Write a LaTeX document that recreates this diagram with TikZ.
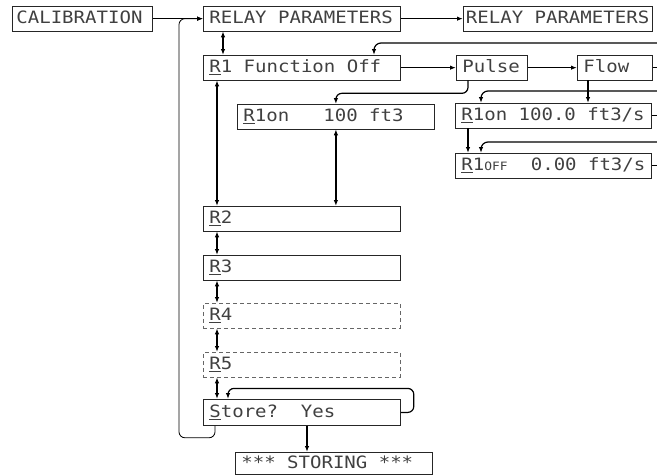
\documentclass[tikz,border=0pt]{standalone}
\usepackage{fontspec}
\usetikzlibrary{arrows.meta}
\newfontfamily\lcdfont[FakeStretch=1.12]{DejaVu Sans Mono}
\newcommand{\lcdsize}{\fontsize{17}{17}\selectfont\fontdimen2\font=11.4pt\fontdimen3\font=0pt\fontdimen4\font=0pt\relax}
\newcommand{\lcdsmall}{\fontsize{11.5}{11.5}\selectfont}
\tikzset{
  panel/.style={draw=black!85, line width=0.8pt, anchor=north west, minimum height=24.5pt,
    inner xsep=6pt, inner ysep=0pt, text height=13pt, text depth=3pt,
    text=black!75, font={\lcdfont\lcdsize},
    execute at begin node={\spaceskip=11.4pt\relax\xspaceskip=11.4pt\relax}},
  dimpanel/.style={panel, draw=black!60, dash pattern=on 4pt off 3pt},
  link/.style={-{Latex[length=6pt,width=4.5pt]}, line width=1.2pt},
  dlink/.style={{Latex[length=6pt,width=4.5pt]}-{Latex[length=6pt,width=4.5pt]}, line width=1.2pt},
  backlink/.style={link, line width=0.8pt, rounded corners=6pt},
  stub/.style={line width=1.2pt}
}
\begin{document}
\begin{tikzpicture}[x=1pt,y=-1pt]
    \useasboundingbox (0,0) rectangle (657,475);

    % Menu principale
    \node[panel, inner xsep=4pt, text width=132pt] (cal) at (12,6) {CALIBRATION};
    \node[panel, text width=185pt] (rpA) at (203,6) {RELAY PARAMETERS};
    \node[panel, inner xsep=2.5pt, text width=184pt] (rpB) at (463,6) {RELAY PARAMETERS};

    % Relè 1
    \node[panel, text width=185pt] (rOne) at (203,55) {\underline{R}1 Function Off};
    \node[panel, text width=59pt] (pulse) at (456,55) {Pulse};
    \node[panel, text width=63pt] (flow) at (577,55) {Flow};
    \node[panel, text width=185pt] (rOnVol) at (237,104) {\underline{R}1on~~~100 ft3};
    \node[panel, text width=184pt] (rOnFlow) at (455,103) {\underline{R}1on 100.0 ft3/s};
    \node[panel, text width=184pt] (rOffFlow) at (455,153) {\underline{R}1{\lcdsmall OFF}\hfill 0.00 ft3/s};

    % Relè 2..5 e memorizzazione
    \node[panel, text width=185pt] (rTwo) at (203,206) {\underline{R}2};
    \node[panel, text width=185pt] (rThree) at (203,255) {\underline{R}3};
    \node[dimpanel, text width=185pt] (rFour) at (203,303) {\underline{R}4};
    \node[dimpanel, text width=185pt] (rFive) at (203,352) {\underline{R}5};
    \node[panel, text width=185pt, minimum height=26pt] (store) at (203,399) {\underline{S}tore?~~Yes};
    \node[panel, text width=185pt, minimum height=22pt] (storing) at (235,452) {*** STORING ***};

    % Punti sul bordo destro
    \coordinate (edgeTop) at (657,43);
    \coordinate (edgeMid) at (657,91);
    \coordinate (edgeLow) at (657,142);
    \coordinate (flowDrop) at ([xshift=11pt]flow.south west);
    \coordinate (storeDrop) at ([xshift=104pt]store.south west);

    % Collegamenti in alto
    \draw[link] (cal.east) -- (rpA.west);
    \draw[backlink] ([xshift=12pt]store.south west) -- ++(0,12) -| ([xshift=-24pt]rpA.west) -- (rpA.west);
    \draw[link] (rpA.east) -- (rpB.west);
    \draw[dlink] ([xshift=20pt]rpA.south west) -- ([xshift=20pt]rOne.north west);

    % Tipo di funzione
    \draw[link] (rOne.east) -- (pulse.west);
    \draw[link] (pulse.east) -- (flow.west);
    \draw[stub] (flow.east) -- (flow.east -| edgeTop);
    \draw[link, rounded corners=7pt] (edgeTop) -| ([xshift=171pt]rOne.north west);
    \draw[link, rounded corners=6pt] ([xshift=12pt]pulse.south west) -- ++(0,13) -| (rOnVol.north);
    \draw[link] (flowDrop) -- (flowDrop |- rOnFlow.north);
    \draw[link, rounded corners=7pt] (edgeMid) -| ([xshift=26pt]rOnFlow.north west);
    \draw[stub] (rOnFlow.east) -- (rOnFlow.east -| edgeTop);
    \draw[link] ([xshift=13pt]rOnFlow.south west) -- ([xshift=13pt]rOffFlow.north west);
    \draw[link, rounded corners=7pt] (edgeLow) -| ([xshift=26pt]rOffFlow.north west);
    \draw[stub] (rOffFlow.east) -- (rOffFlow.east -| edgeTop);

    % Colonna dei relè
    \draw[dlink] ([xshift=14pt]rOne.south west) -- ([xshift=14pt]rTwo.north west);
    \draw[dlink] (rOnVol.south) -- (rOnVol.south |- rTwo.north);
    \foreach \a/\b in {rTwo/rThree, rThree/rFour, rFour/rFive, rFive/store}
        \draw[dlink] ([xshift=14pt]\a.south west) -- ([xshift=14pt]\b.north west);

    % Memorizzazione
    \draw[link, rounded corners=6pt] (store.east) -- ++(13,0) -- ++(0,-24) -| ([xshift=25pt]store.north west);
    \draw[link] (storeDrop) -- (storeDrop |- storing.north);

\end{tikzpicture}
\end{document}
